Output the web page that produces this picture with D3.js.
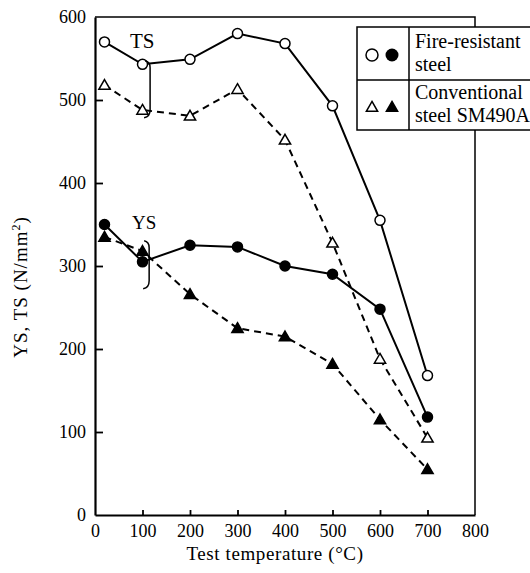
<!DOCTYPE html>
<html>
<head>
<meta charset="utf-8">
<script src="https://cdn.jsdelivr.net/npm/d3@7"></script>
<style>
  body { margin: 0; background: #fff; }
  svg text { font-family: "Liberation Serif", "Times New Roman", serif; fill: #000; }
</style>
</head>
<body>
<script>
var width = 530,
    height = 573;

// data
var temps = [20, 100, 200, 300, 400, 500, 600, 700];
var fireTS = [570, 543, 549, 580, 568, 493, 355, 168];
var convTS = [518, 488, 481, 513, 452, 328, 188, 93];
var fireYS = [350, 305, 325, 323, 300, 290, 248, 118];
var convYS = [335, 318, 266, 225, 215, 182, 115, 55];

var xTicks = [0, 100, 200, 300, 400, 500, 600, 700, 800];
var yTicks = [0, 100, 200, 300, 400, 500, 600];

var serif = '"Liberation Serif", "Times New Roman", serif';

var x = d3.scaleLinear().domain([0, 800]).range([95, 475]);
var y = d3.scaleLinear().domain([0, 600]).range([515, 17]);

var svg = d3.select("body").append("svg")
    .attr("width", width)
    .attr("height", height);

// frame: top and right
svg.append("path")
    .attr("d", "M" + x(0) + "," + y(600) + "H" + x(800) + "V" + y(0))
    .attr("fill", "none")
    .attr("stroke", "#000")
    .attr("stroke-width", 1.5);

// axes, ticks pointing inward
var xAxis = svg.append("g")
    .attr("transform", "translate(0," + y(0) + ")")
    .call(d3.axisBottom(x).tickValues(xTicks).tickSizeInner(-5).tickSizeOuter(0).tickPadding(9));
var yAxis = svg.append("g")
    .attr("transform", "translate(" + x(0) + ",0)")
    .call(d3.axisLeft(y).tickValues(yTicks).tickSizeInner(-8).tickSizeOuter(0).tickPadding(9));

[xAxis, yAxis].forEach(function(a) {
  a.attr("font-family", serif).attr("font-size", 18);
  a.select(".domain").attr("stroke-width", 2.2);
  a.selectAll(".tick line").attr("stroke-width", 1.8);
  a.selectAll("text").style("font-family", serif).style("font-size", "18px");
});
xAxis.selectAll(".tick").filter(function(d) { return d === 0 || d === 800; }).select("line").remove();
yAxis.selectAll(".tick").filter(function(d) { return d === 0 || d === 600; }).select("line").remove();

// axis titles
svg.append("text")
    .attr("x", 275)
    .attr("y", 560)
    .attr("text-anchor", "middle")
    .style("font-family", serif)
    .style("font-size", "19px")
    .style("letter-spacing", "0.6px")
    .text("Test temperature (°C)");

var ylab = svg.append("text")
    .attr("transform", "translate(27,287) rotate(-90)")
    .attr("text-anchor", "middle")
    .style("font-family", serif)
    .style("font-size", "19px")
    .style("letter-spacing", "1px");
ylab.append("tspan").text("YS, TS (N/mm");
ylab.append("tspan").attr("dy", -7).style("font-size", "12px").text("2");
ylab.append("tspan").attr("dy", 7).text(")");

// series
var line = d3.line()
    .x(function(d) { return x(d[0]); })
    .y(function(d) { return y(d[1]); });

function zipT(vals) { return temps.map(function(t, i) { return [t, vals[i]]; }); }

var series = [
  {vals: fireTS, dash: null, mark: "circle", fill: "#fff"},
  {vals: convTS, dash: "7,5", mark: "triangle", fill: "#fff"},
  {vals: fireYS, dash: null, mark: "circle", fill: "#000"},
  {vals: convYS, dash: "7,5", mark: "triangle", fill: "#000"}
];

var tri = d3.symbol().type(d3.symbolTriangle).size(55);

series.forEach(function(s) {
  var pts = zipT(s.vals);
  svg.append("path")
      .attr("d", line(pts))
      .attr("fill", "none")
      .attr("stroke", "#000")
      .attr("stroke-width", 2)
      .attr("stroke-dasharray", s.dash);
  var g = svg.append("g");
  if (s.mark === "circle") {
    g.selectAll("circle").data(pts).enter().append("circle")
        .attr("cx", function(d) { return x(d[0]); })
        .attr("cy", function(d) { return y(d[1]); })
        .attr("r", 5)
        .attr("fill", s.fill)
        .attr("stroke", "#000")
        .attr("stroke-width", 1.5);
  } else {
    g.selectAll("path").data(pts).enter().append("path")
        .attr("d", tri)
        .attr("transform", function(d) { return "translate(" + x(d[0]) + "," + (y(d[1]) + 1) + ")"; })
        .attr("fill", s.fill)
        .attr("stroke", "#000")
        .attr("stroke-width", 1.5);
  }
});

// brackets and labels
function bracket(tx, top, bot) {
  var bx = x(tx), t = y(top), b = y(bot);
  return "M" + (bx - 5) + "," + (t - 2) + "Q" + bx + "," + (t - 1) + " " + bx + "," + (t + 5) +
         "L" + bx + "," + (b - 6) + "Q" + bx + "," + (b + 1) + " " + (bx - 6) + "," + (b + 2);
}
svg.append("path").attr("d", bracket(116, 545, 481))
    .attr("fill", "none").attr("stroke", "#000").attr("stroke-width", 1.5);
svg.append("path").attr("d", bracket(114, 328, 275))
    .attr("fill", "none").attr("stroke", "#000").attr("stroke-width", 1.5);

svg.append("text").attr("x", 130).attr("y", 48)
    .style("font-family", serif).style("font-size", "21px").text("TS");
svg.append("text").attr("x", 132).attr("y", 229)
    .style("font-family", serif).style("font-size", "19px").text("YS");

// legend box
var lg = svg.append("g");
lg.append("rect")
    .attr("x", 357).attr("y", 27).attr("width", 180).attr("height", 103)
    .attr("fill", "#fff").attr("stroke", "#000").attr("stroke-width", 1.5);
lg.append("line").attr("x1", 409).attr("x2", 409).attr("y1", 27).attr("y2", 130)
    .attr("stroke", "#000").attr("stroke-width", 1.5);
lg.append("line").attr("x1", 357).attr("x2", 530).attr("y1", 80).attr("y2", 80)
    .attr("stroke", "#000").attr("stroke-width", 1.5);

lg.append("circle").attr("cx", 372).attr("cy", 55).attr("r", 6)
    .attr("fill", "#fff").attr("stroke", "#000").attr("stroke-width", 1.5);
lg.append("circle").attr("cx", 392).attr("cy", 55).attr("r", 6.5).attr("fill", "#000");
lg.append("path").attr("d", tri).attr("transform", "translate(372,108)")
    .attr("fill", "#fff").attr("stroke", "#000").attr("stroke-width", 1.5);
lg.append("path").attr("d", tri).attr("transform", "translate(392,108)")
    .attr("fill", "#000").attr("stroke", "#000").attr("stroke-width", 1.5);

var legendLines = [["Fire-resistant", 48], ["steel", 71], ["Conventional", 99], ["steel SM490A", 122]];
legendLines.forEach(function(l) {
  lg.append("text").attr("x", 415).attr("y", l[1])
      .style("font-family", serif).style("font-size", "20px").text(l[0]);
});
</script>
</body>
</html>
